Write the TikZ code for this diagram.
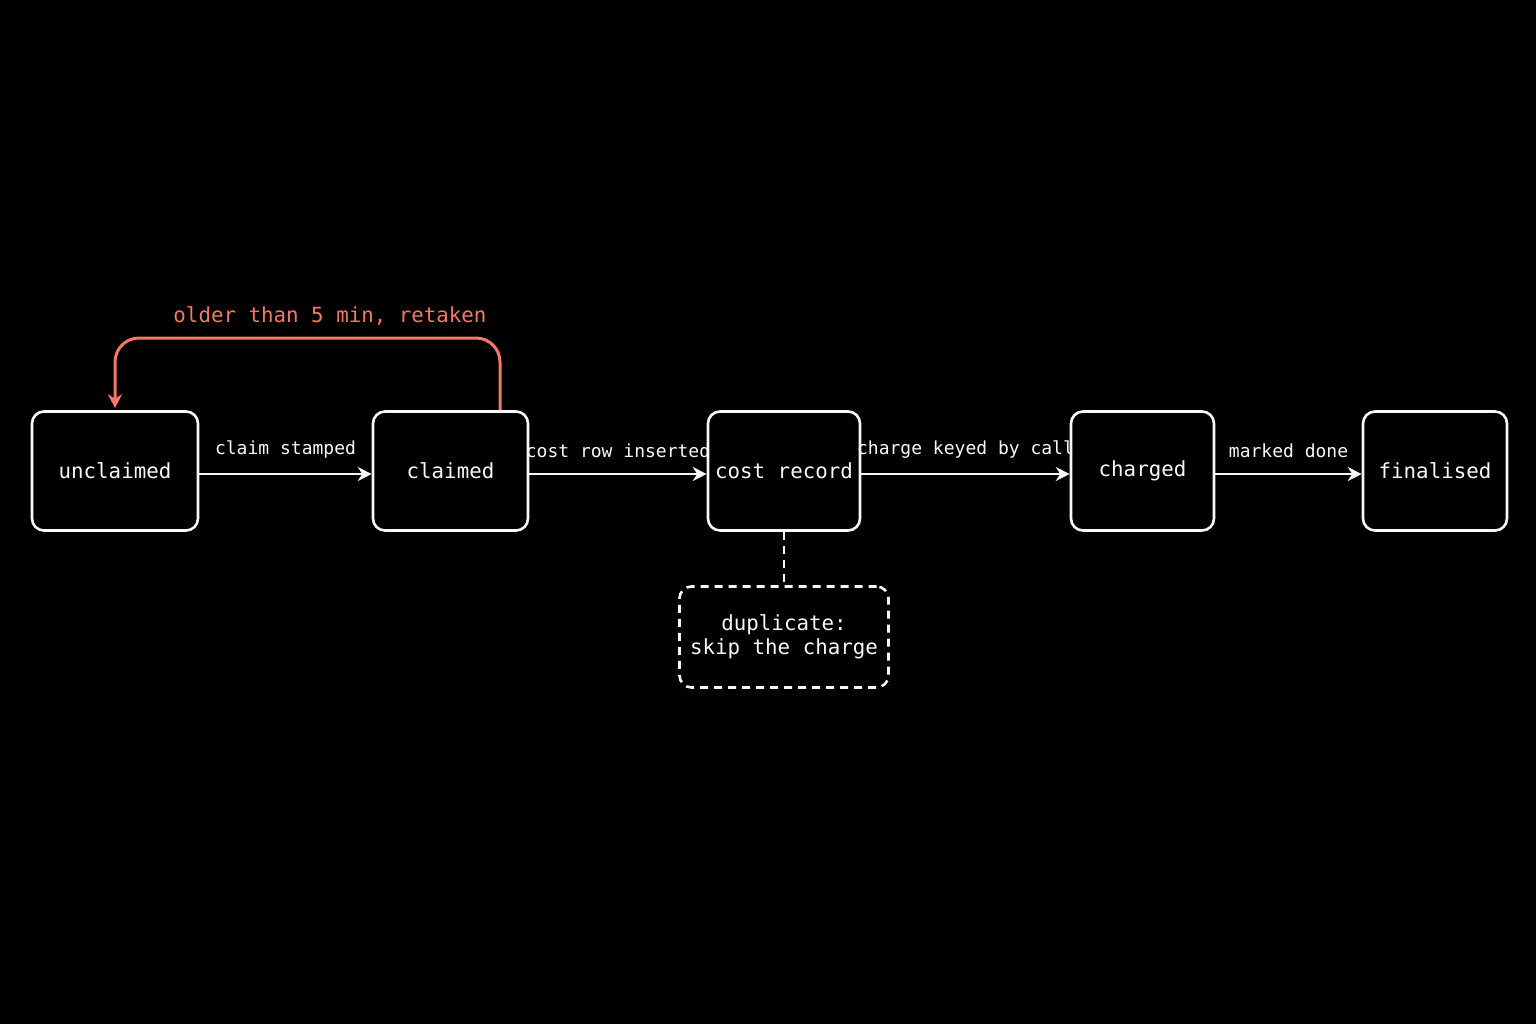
\documentclass[tikz,border=0pt]{standalone}
\usepackage{fontspec}
\setmonofont{DejaVu Sans Mono}
\usetikzlibrary{arrows.meta, positioning}
\definecolor{retake}{RGB}{240,122,102}
\definecolor{chalk}{RGB}{250,248,242}

\begin{document}
\begin{tikzpicture}[
                x=0.5pt, y=-0.5pt,
                state/.style={shape=rectangle, rounded corners=6pt, draw=chalk, line width=1.3pt, minimum height=59.5pt, text=chalk, font=\ttfamily\fontsize{10.4}{12}\selectfont},
                note/.style={state, dashed, dash pattern=on 4pt off 3pt, align=center, minimum width=104.5pt, minimum height=50.5pt},
                flowarrow/.style={-{Stealth[length=7pt,width=7pt]}, draw=chalk, line width=1.3pt},
                flowlabel/.style={above=4pt, text=chalk, font=\ttfamily\fontsize{9}{11}\selectfont, midway}
                ]
                %% Background
                \fill[black] (0,0) rectangle (1536,1024);
                \useasboundingbox (0,0) rectangle (1536,1024);

                %% States
                \node[state, minimum width=83pt] (unclaimed) at (115,471) {unclaimed};
                \node[state, minimum width=77.5pt] (claimed) at (450.5,471) {claimed};
                \node[state, minimum width=76pt] (costrecord) at (784,471) {cost record};
                \node[state, minimum width=71.5pt] (charged) at (1142.5,471) {charged};
                \node[state, minimum width=72pt] (finalised) at (1435,471) {finalised};
                \node[note] (duplicate) at (784,637) {duplicate:\\skip the charge};

                %% Steps
                \draw[flowarrow] ([yshift=-1.5pt]unclaimed.east) -- node[flowlabel] {claim stamped} ([yshift=-1.5pt]claimed.west);
                \draw[flowarrow] ([yshift=-1.5pt]claimed.east) -- node[flowlabel] {cost row inserted} ([yshift=-1.5pt]costrecord.west);
                \draw[flowarrow] ([yshift=-1.5pt]costrecord.east) -- node[flowlabel] {charge keyed by call} ([yshift=-1.5pt]charged.west);
                \draw[flowarrow] ([yshift=-1.5pt]charged.east) -- node[flowlabel] {marked done} ([yshift=-1.5pt]finalised.west);
                \draw[draw=chalk, line width=1.3pt, dashed, dash pattern=on 4pt off 3pt] (costrecord.south) -- (duplicate.north);

                %% Retake loop
                \coordinate (looptop) at (500,338);
                \draw[retake, line width=1.5pt, rounded corners=12pt, -{Stealth[length=7pt,width=7pt]}]
                    (claimed.north -| looptop) -- (looptop) -- (unclaimed.north |- looptop) -- ([yshift=1pt]unclaimed.north);
                \node[text=retake, font=\ttfamily\fontsize{10.4}{12}\selectfont] (retaken) at (330,316) {older than 5 min, retaken};
\end{tikzpicture}
\end{document}
